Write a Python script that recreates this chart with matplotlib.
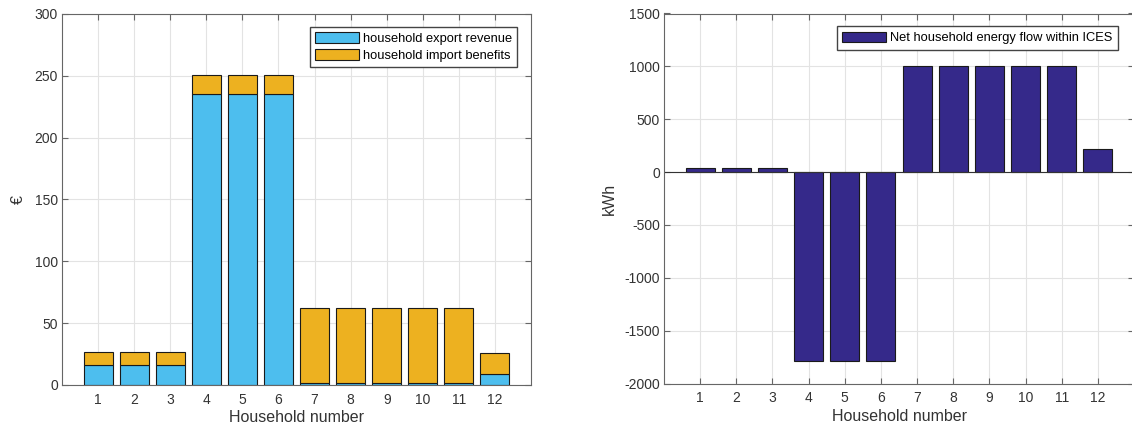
import numpy as np
import matplotlib.pyplot as plt

plt.rcParams['font.family'] = ['Liberation Sans', 'DejaVu Sans']
plt.rcParams['axes.unicode_minus'] = False

households = np.arange(1, 13)
export_revenue = [16, 16, 16, 235, 235, 235, 2, 2, 2, 2, 2, 9]
import_benefits = [11, 11, 11, 16, 16, 16, 60, 60, 60, 60, 60, 17]
net_flow = [35, 35, 35, -1785, -1785, -1785, 1005, 1005, 1005, 1005, 1005, 220]

c_export = '#4DBEEE'
c_import = '#EDB120'
c_net = '#35298A'
ax_col = '#666666'
txt_col = '#333333'

fig = plt.figure(figsize=(11.32, 4.30), dpi=100)
W, H = 1132, 430
ax1 = fig.add_axes([62 / W, 1 - 385 / H, 469 / W, 371 / H])
ax2 = fig.add_axes([664 / W, 1 - 383.5 / H, 470 / W, 370 / H])


def style(ax):
    ax.set_xlim(0, 13)
    ax.set_xticks(households)
    ax.grid(True, color='#e3e3e3', linewidth=0.8)
    ax.set_axisbelow(True)
    ax.tick_params(direction='in', top=True, right=True, length=4, pad=3,
                   colors=ax_col, labelsize=10, labelcolor=txt_col)
    ax.tick_params(axis='x', pad=5.5)
    for s in ax.spines.values():
        s.set_color(ax_col)
    ax.set_xlabel('Household number', fontsize=11.5, color=txt_col, labelpad=2.5)


leg_kw = dict(loc='upper right', fontsize=9.3, fancybox=False, edgecolor='#444444',
              framealpha=1, borderpad=0.4, handlelength=3.4, handleheight=0.9,
              labelspacing=0.3, handletextpad=0.3, borderaxespad=0)

ax1.bar(households, export_revenue, 0.8, color=c_export, edgecolor='#1a1a1a',
        linewidth=0.8, label='household export revenue')
ax1.bar(households, import_benefits, 0.8, bottom=export_revenue, color=c_import,
        edgecolor='#1a1a1a', linewidth=0.8, label='household import benefits')
style(ax1)
ax1.set_ylim(0, 300)
ax1.set_yticks(np.arange(0, 301, 50))
ax1.set_ylabel('€', fontsize=11.5, color=txt_col, labelpad=6)
ax1.legend(bbox_to_anchor=(0.97, 0.965), **leg_kw)

ax2.bar(households, net_flow, 0.8, color=c_net, edgecolor='#1a1a1a',
        linewidth=0.8, label='Net household energy flow within ICES')
ax2.axhline(0, color=txt_col, linewidth=0.8)
style(ax2)
ax2.set_ylim(-2000, 1500)
ax2.set_yticks(np.arange(-2000, 1501, 500))
ax2.set_ylabel('kWh', fontsize=11.5, color=txt_col, labelpad=5)
ax2.legend(bbox_to_anchor=(0.965, 0.965), **leg_kw)

fig.savefig('out.png', dpi=100)
